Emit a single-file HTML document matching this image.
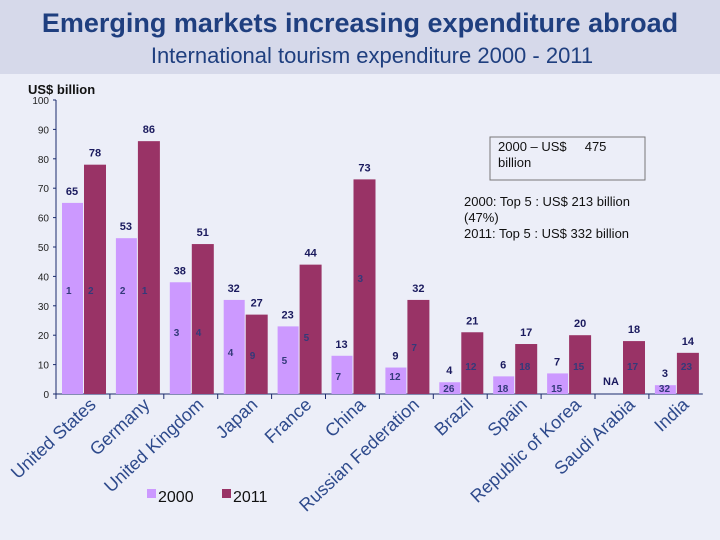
<!DOCTYPE html>
<html><head><meta charset="utf-8"><style>
body{margin:0;width:720px;height:540px;overflow:hidden;background:#eceef8;font-family:"Liberation Sans",sans-serif}
#hdr{position:absolute;left:0;top:0;width:720px;height:74px;background:#d6d9ea}
</style></head><body>
<div id="hdr"></div>
<svg width="720" height="540" style="position:absolute;left:0;top:0">
<text x="360" y="32" text-anchor="middle" font-size="27" font-weight="bold" fill="#1f3f7f">Emerging markets increasing expenditure abroad</text>
<text x="372" y="63" text-anchor="middle" font-size="22" fill="#1f3f7f">International tourism expenditure 2000 - 2011</text>
<text x="28" y="94" font-size="13" font-weight="bold" fill="#111">US$ billion</text>
<rect x="490" y="137" width="155" height="43" fill="#eceef8" stroke="#777"/>
<text x="498" y="151" font-size="13" fill="#111">2000 – US$ &#160;&#160;&#160;&#160;475</text>
<text x="498" y="167" font-size="13" fill="#111">billion</text>
<text x="464" y="206" font-size="13" fill="#111">2000: Top 5 : US$ 213 billion</text>
<text x="464" y="222" font-size="13" fill="#111">(47%)</text>
<text x="464" y="238" font-size="13" fill="#111">2011: Top 5 : US$ 332 billion</text>
<g id="plot"></g>
<rect x="147" y="489" width="9" height="9" fill="#cc99ff"/>
<text x="158" y="502" font-size="16" fill="#111">2000</text>
<rect x="222" y="489" width="9" height="9" fill="#993366"/>
<text x="233" y="502" font-size="16" fill="#111">2011</text>
</svg>
<script>
const categories=["United States","Germany","United Kingdom","Japan","France","China","Russian Federation","Brazil","Spain","Republic of Korea","Saudi Arabia","India"];
const values2000=[65,53,38,32,23,13,9,4,6,7,null,3];
const values2011=[78,86,51,27,44,73,32,21,17,20,18,14];
const rank2000=["1","2","3","4","5","7","12","26","18","15","","32"];
const rank2011=["2","1","4","9","5","3","7","12","18","15","17","23"];
const yTicks=[0,10,20,30,40,50,60,70,80,90,100];
const NS="http://www.w3.org/2000/svg";
const g=document.getElementById('plot');
const x0=56,gw=53.9,yb=394,yt=100;
const y=v=>yb-(v/100)*(yb-yt);
const gx=i=>x0+i*gw;
function mk(t,a){const e=document.createElementNS(NS,t);for(const k in a)e.setAttribute(k,a[k]);g.appendChild(e);return e;}
const ax=mk('line',{x1:x0,y1:yt,x2:x0,y2:yb,stroke:'#1a2a6c'});

const bx=mk('line',{x1:x0,y1:yb,x2:gx(12),y2:yb,stroke:'#1a2a6c'});

yTicks.forEach(t=>{
 const l=mk('line',{x1:x0-3,y1:y(t),x2:x0,y2:y(t),stroke:'#1a2a6c'});
 
 const tx=mk('text',{x:x0-7,y:y(t)+4,'font-size':10,'text-anchor':'end',fill:'#222'});tx.textContent=t;
 
});
categories.forEach((c,i)=>{
 const s=gx(i);
 const tk=mk('line',{x1:s,y1:yb,x2:s,y2:yb+5,stroke:'#1a2a6c'});
 
 const v0=values2000[i],v1=values2011[i];
 if(v0!==null){
  const r=mk('rect',{x:s+6,y:y(v0),width:21,height:yb-y(v0),fill:'#cc99ff'});
  
  const t=mk('text',{x:s+16,y:y(v0)-8,'font-size':11,'font-weight':'bold','text-anchor':'middle',fill:'#1a1a5e'});t.textContent=v0;
  
 } else {
  const t=mk('text',{x:s+16,y:yb-9,'font-size':11,'font-weight':'bold','text-anchor':'middle',fill:'#1a1a5e'});t.textContent='NA';
  
 }
 const r2=mk('rect',{x:s+28,y:y(v1),width:22,height:yb-y(v1),fill:'#993366'});
 
 const t2=mk('text',{x:s+39,y:y(v1)-8,'font-size':11,'font-weight':'bold','text-anchor':'middle',fill:'#1a1a5e'});t2.textContent=v1;
 
 if(rank2000[i]){
  const k=mk('text',{x:s+10,y:i<2?yb-100:(i<5?[yb-58,yb-38,yb-30][i-2]:yb-14),'font-size':10,'font-weight':'bold',fill:'#333a7a'});k.textContent=rank2000[i];
  if(i>=7)k.setAttribute('y',yb-2);
  }
 const k2=mk('text',{x:s+32,y:i<2?yb-100:(i<5?[yb-58,yb-35,yb-53][i-2]:(i==5?yb-112:yb-22)),'font-size':10,'font-weight':'bold',fill:'#333a7a'});k2.textContent=rank2011[i];
 if(i>=7)k2.setAttribute('y',yb-24);
 if(i==6)k2.setAttribute('y',yb-43);
 
 const cl=mk('text',{x:s+gw/2+14,y:yb+12,'font-size':18,'text-anchor':'end',fill:'#2e4a8c',transform:`rotate(-43 ${s+gw/2+14} ${yb+12})`});cl.textContent=c;
 
});
</script>
</body></html>
